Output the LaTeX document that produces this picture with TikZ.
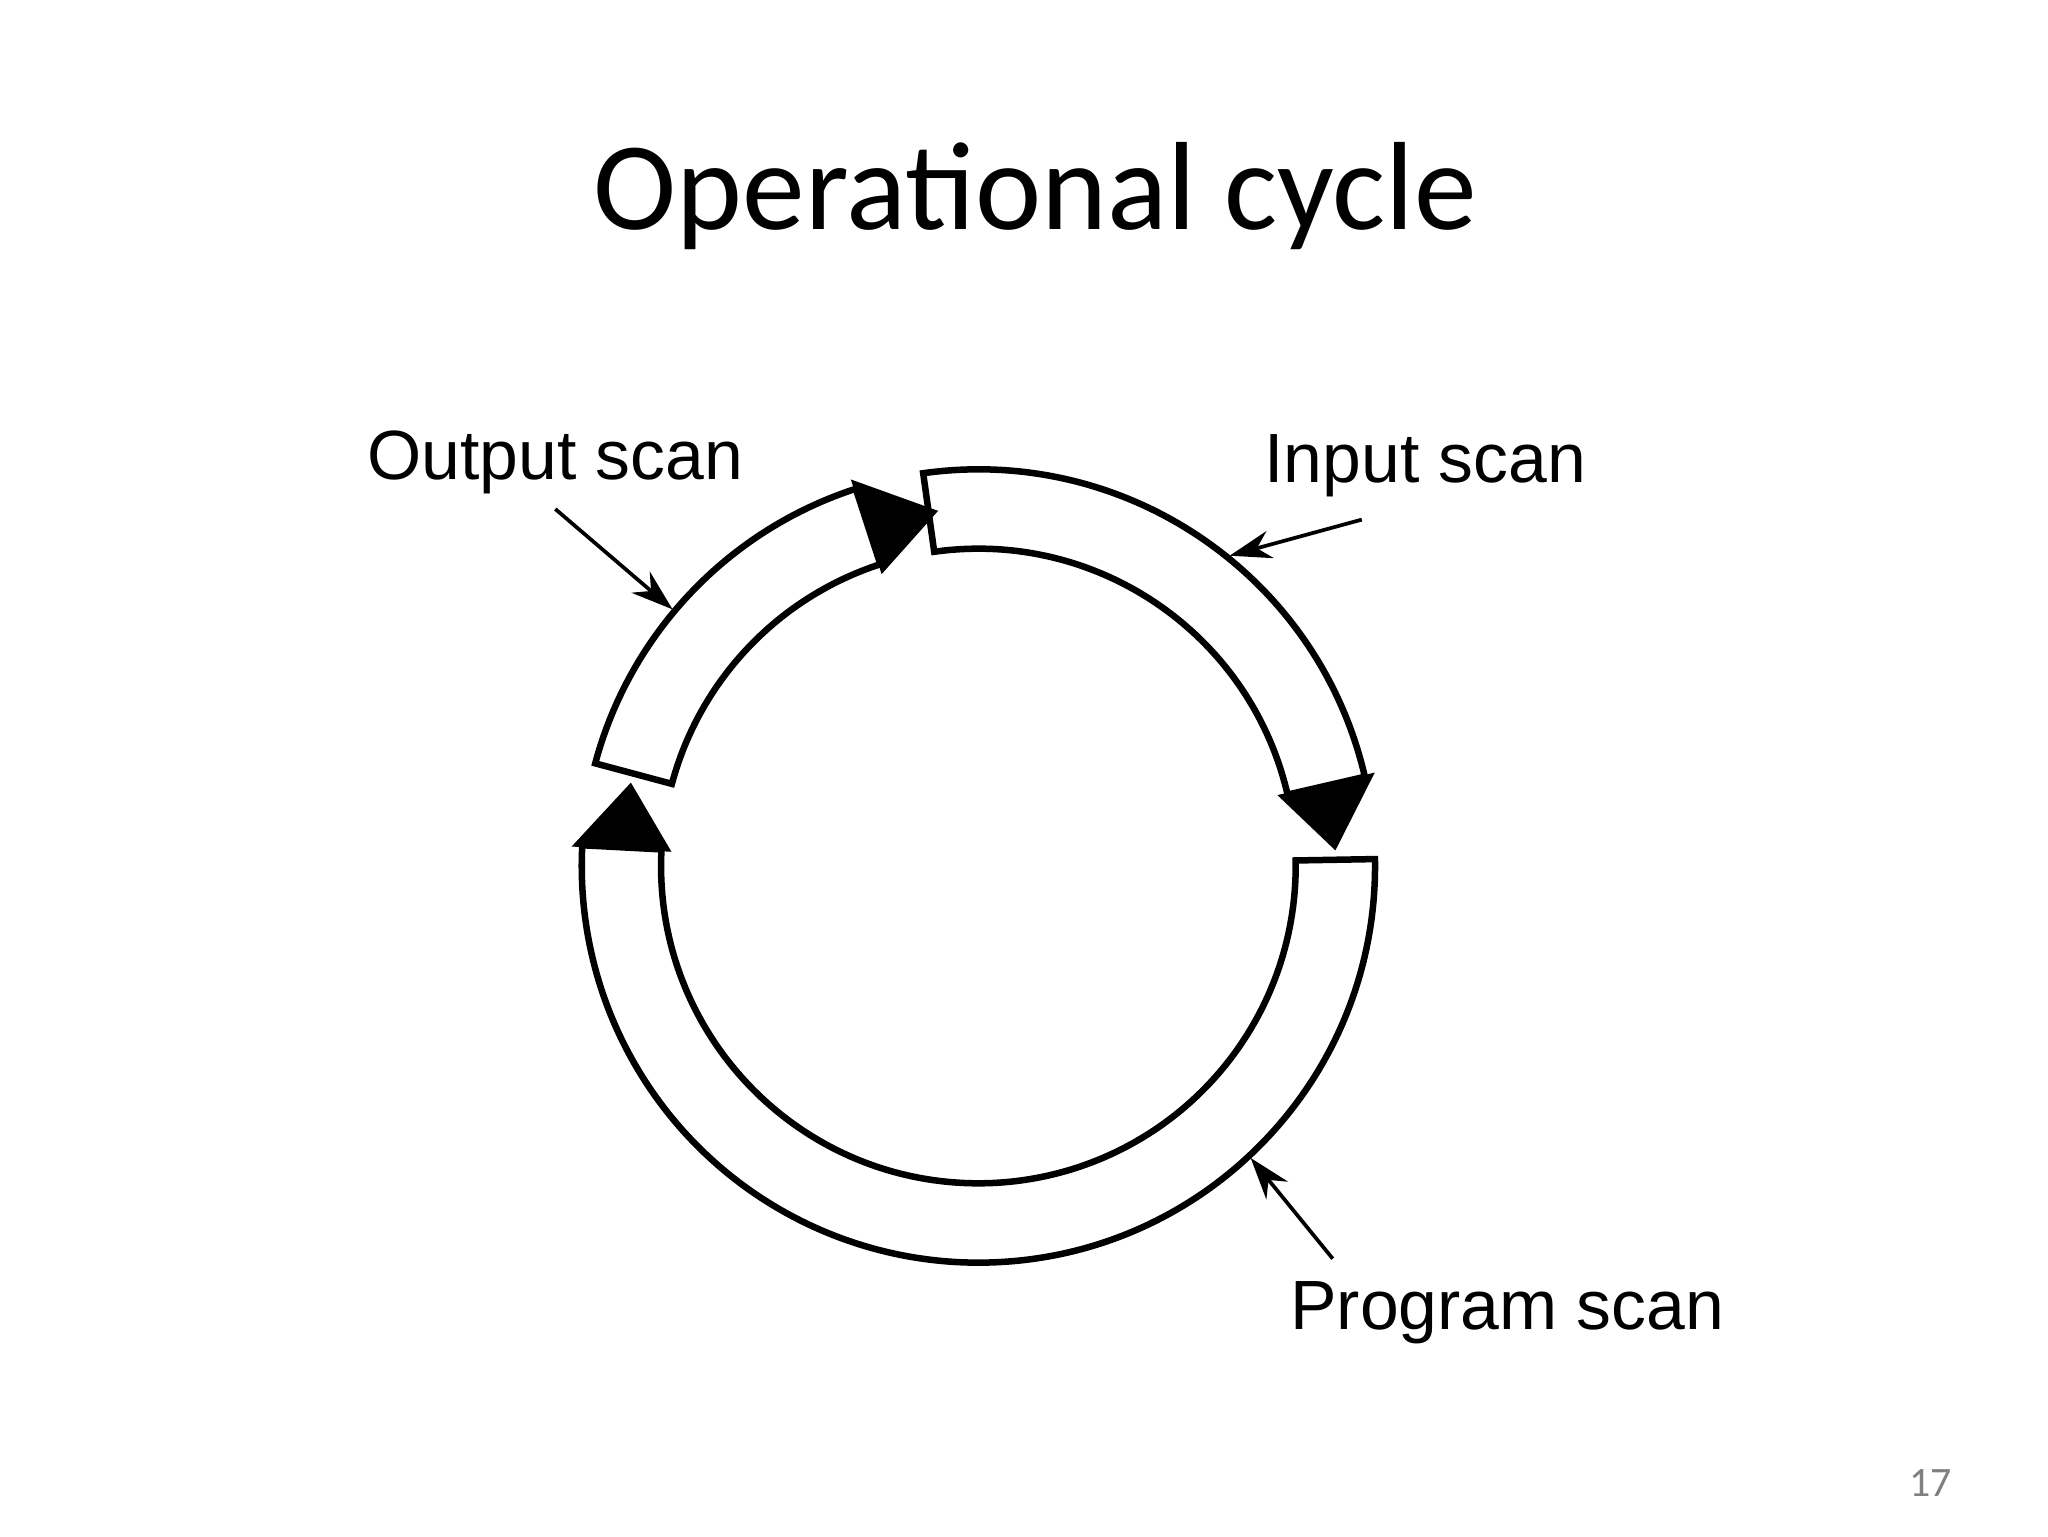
\documentclass[tikz,border=0pt]{standalone}
\usepackage{fontspec}
\setmainfont{Carlito}
\newfontfamily\lblfont{Liberation Sans}
\usetikzlibrary{arrows.meta}
\tikzset{
  seg/.style={draw=black,line width=1.4pt,fill=white},
  head/.style={fill=black,draw=black,line width=0.8pt},
  lbl/.style={font=\lblfont\fontsize{15}{17}\selectfont},
  ptr/.style={-{Stealth[length=9pt,width=6pt]},line width=0.8pt}
}
\newcommand{\ringseg}[3]{%
  \draw[seg] (#1:3cm) arc[start angle=#1,end angle=#2,radius=3cm] -- (#2:2.4cm) arc[start angle=#2,end angle=#1,radius=2.4cm] -- cycle;
  \fill[head] (#2:2.35cm) -- (#2:3.05cm) -- (#3:2.7cm) -- cycle;}
\begin{document}
\begin{tikzpicture}
\useasboundingbox (0,0) rectangle (15.49,11.62);
\node (title) at (7.83,10.14) {\fontsize{27}{30}\selectfont Operational cycle};
\begin{scope}[shift={(7.40,5.07)}]
  \ringseg{98}{13}{3}
  \ringseg{1}{-183}{-193}
  \ringseg{165}{108}{97}
  \coordinate (outpt) at (140:3.02cm);
  \coordinate (inpt) at (51:3.02cm);
  \coordinate (progpt) at (-47:3.02cm);
\end{scope}
\node[lbl] (outl) at (4.20,8.12) {Output scan};
\node[lbl] (inl) at (10.78,8.10) {Input scan};
\node[lbl] (progl) at (11.40,1.69) {Program scan};
\coordinate (outs) at (4.20,7.77);
\coordinate (ins) at (10.30,7.69);
\coordinate (progs) at (10.08,2.10);
\draw[ptr] (outs) -- (outpt);
\draw[ptr] (ins) -- (inpt);
\draw[ptr] (progs) -- (progpt);
\node[text=gray,font=\fontsize{9}{10}\selectfont] (pg) at (14.60,0.40) {17};
\end{tikzpicture}
\end{document}
